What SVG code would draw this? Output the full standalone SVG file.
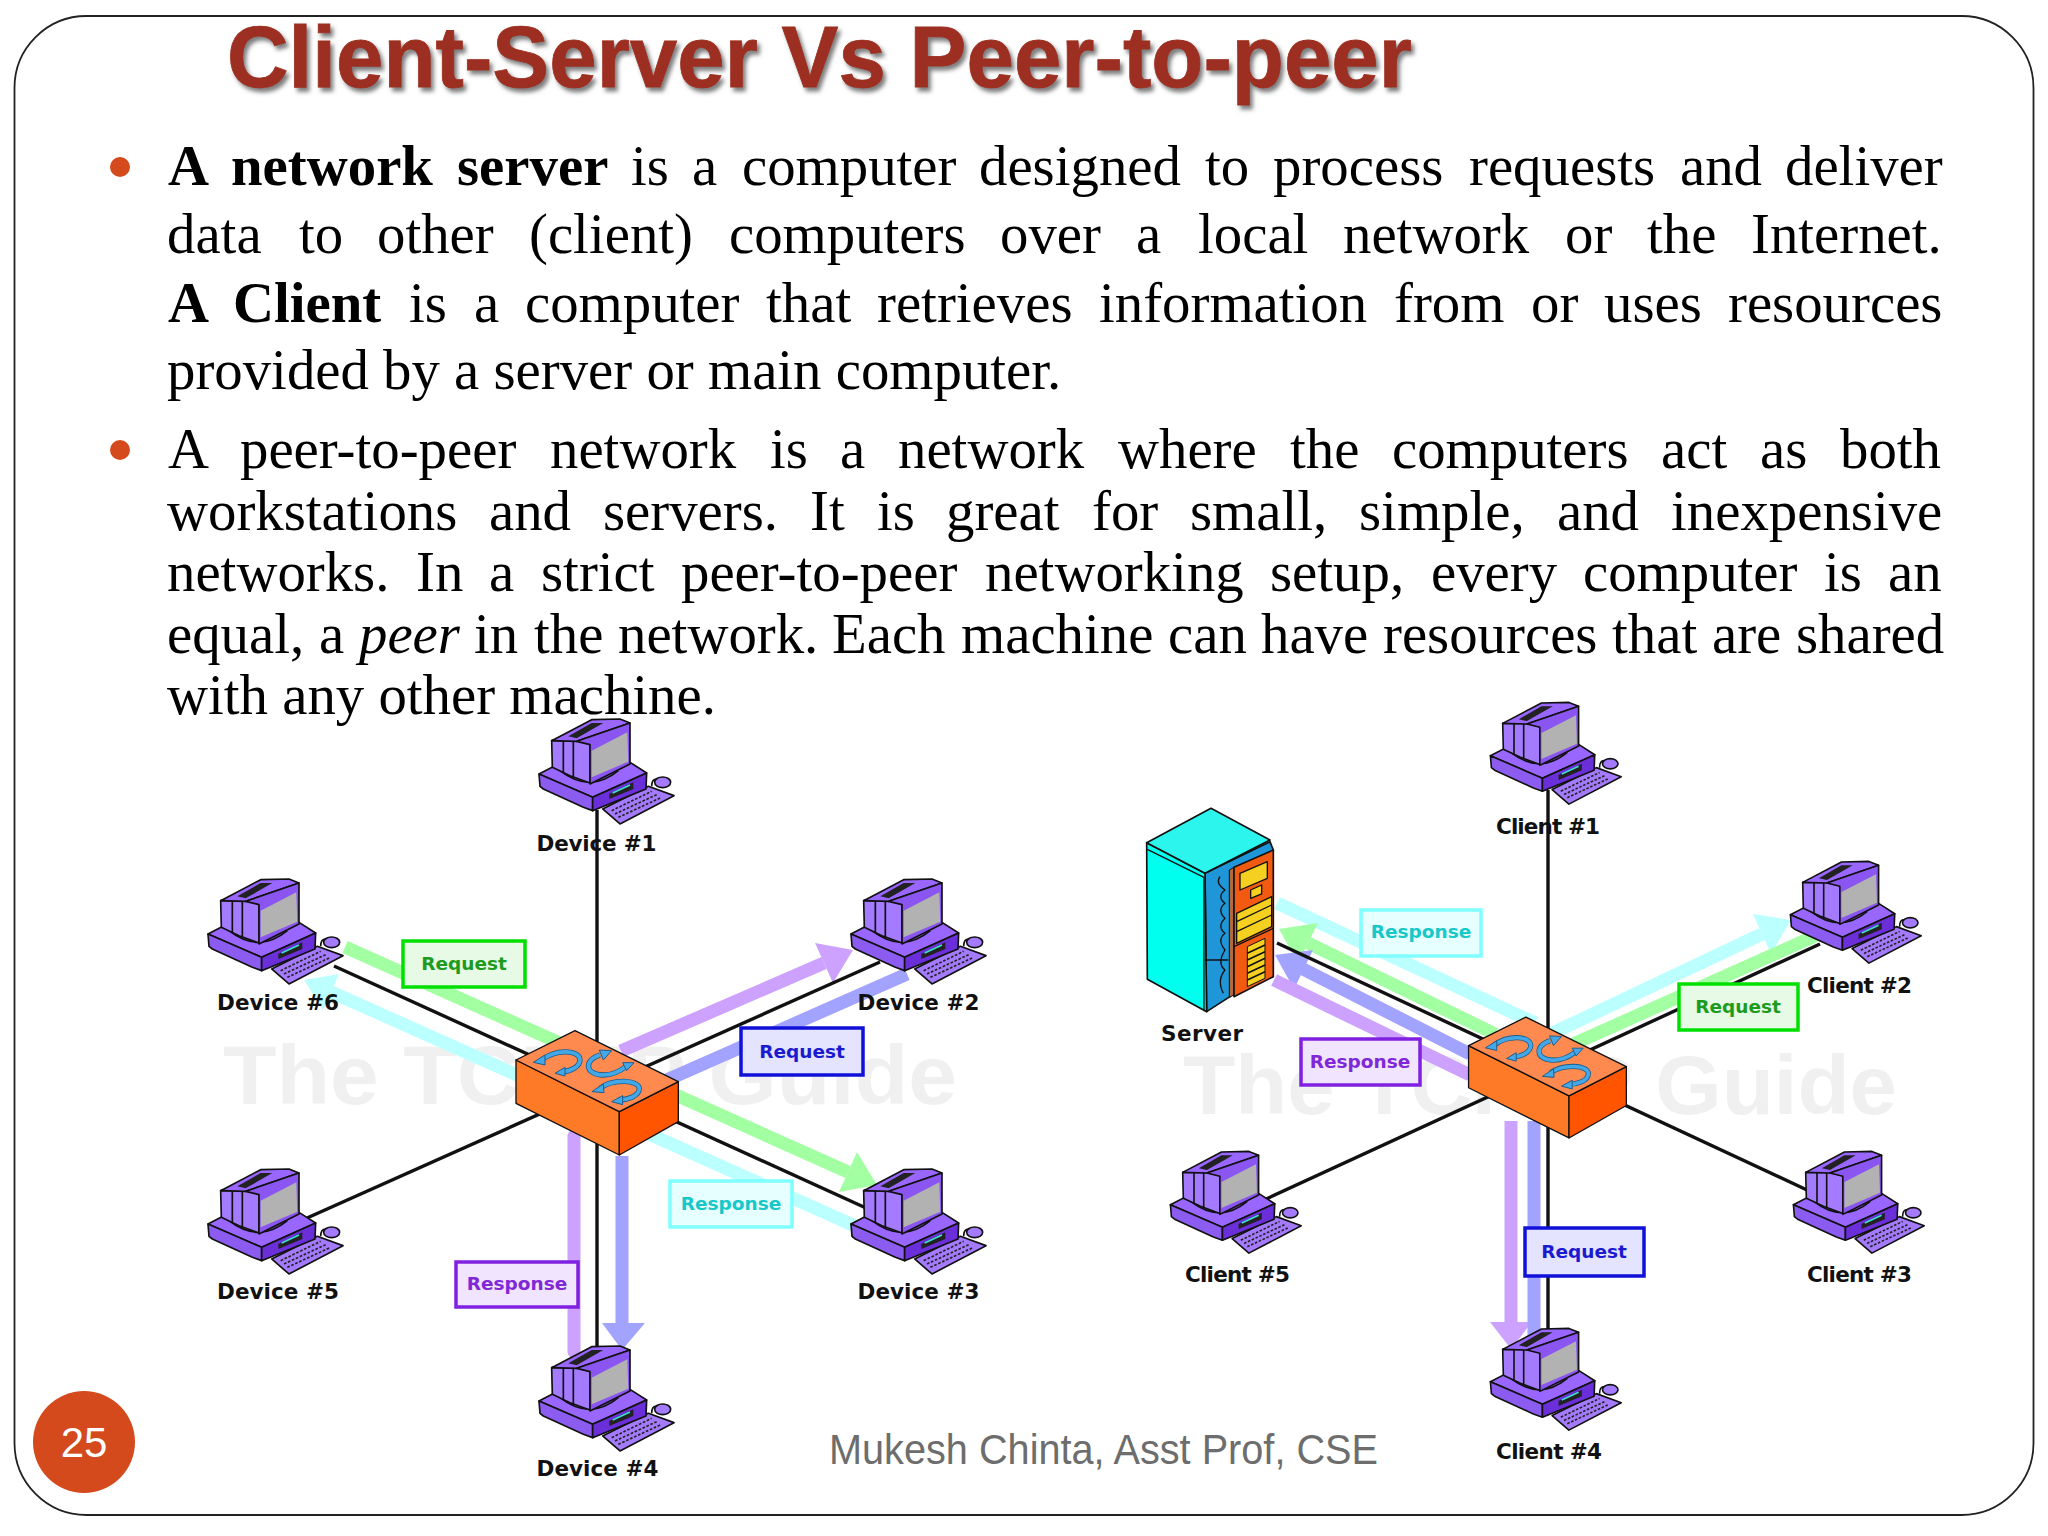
<svg xmlns="http://www.w3.org/2000/svg" xmlns:xlink="http://www.w3.org/1999/xlink" width="2048" height="1536" viewBox="0 0 2048 1536">
<style>
.body{font-family:"Liberation Serif","Times New Roman",serif;font-size:56.8px;fill:#000}
.b{font-weight:bold}
.i{font-style:italic}
.dev{font-family:"DejaVu Sans",Verdana,sans-serif;font-weight:bold;font-size:21.5px;fill:#111}
.lab{font-family:"DejaVu Sans",Verdana,sans-serif;font-weight:bold;font-size:18.5px;text-anchor:middle}
.box{stroke-width:3.5}
.wire{stroke:#111;stroke-width:3.4;fill:none}
.ar{stroke-width:13;fill:none}
.g{stroke:#a2ffa2}.gf{fill:#a2ffa2}
.c{stroke:#bbffff}.cf{fill:#bbffff}
.p{stroke:#cda2ff}.pf{fill:#cda2ff}
.u{stroke:#a2a2ff}.uf{fill:#a2a2ff}
.wm{font-family:"Liberation Sans",Arial,sans-serif;font-weight:bold;font-size:84px;fill:#f0f0f0}
.o{stroke:#111;stroke-width:5;stroke-linejoin:round}
</style>
<defs>
<filter id="ts" x="-5%" y="-20%" width="110%" height="150%"><feDropShadow dx="3" dy="4" stdDeviation="2.2" flood-color="#666" flood-opacity=".85"/></filter>
<g id="pc">
<polygon class="o" points="248,330 385,262 462,290 300,375" fill="#a47bff"/>
<path d="M275,335L395,277M285,345L410,287M295,355L425,295" stroke="#222" stroke-width="5" stroke-dasharray="8 5" fill="none"/>
<path d="M395,262Q395,240 410,240" stroke="#111" stroke-width="5" fill="none"/>
<ellipse class="o" cx="428" cy="250" rx="24" ry="16" fill="#a47bff"/>
<polygon class="o" points="57,225 125,190 330,190 380,222 218,295" fill="#9966ff"/>
<polygon class="o" points="57,225 218,295 218,335 190,325 70,270 60,262" fill="#8c5cf0"/>
<polygon class="o" points="218,295 380,222 378,270 218,335" fill="#6a2fd8"/>
<polygon points="268,285 340,250 340,270 268,300" fill="#222"/>
<path d="M278,282L330,258" stroke="#3fe0d0" stroke-width="5"/>
<path d="M120,215Q210,285 295,215" stroke="#111" stroke-width="5" fill="#8a55f0"/>
<polygon class="o" points="95,125 170,125 210,135 210,252 150,230 97,205" fill="#a47bff"/>
<path d="M130,125V222M160,125V235" stroke="#111" stroke-width="5"/>
<polygon class="o" points="95,125 215,62 300,60 330,72 170,127" fill="#9966ff"/>
<polygon points="145,112 215,72 250,72 170,118" fill="#222"/>
<polygon class="o" points="170,127 330,72 330,195 210,255 210,137" fill="#8a55f0"/>
<polygon points="215,155 322,100 325,188 215,235" fill="#b2b2b2"/>
</g>
<g id="hub">
<polygon points="48,150 358,305 358,435 48,280" fill="#ff7a26" stroke="#111" stroke-width="4" stroke-linejoin="round"/>
<polygon points="535,215 535,335 358,435 358,305" fill="#ff5400" stroke="#111" stroke-width="4" stroke-linejoin="round"/>
<polygon points="225,62 535,215 358,305 48,150" fill="#ff8a50" stroke="#111" stroke-width="4" stroke-linejoin="round"/>
<g fill="none">
<g stroke="#1a5d8f" stroke-width="16">
<path d="M125 150C170 115 240 120 240 150C240 170 210 185 185 185"/>
<path d="M300 135C250 150 255 195 310 195C340 195 365 180 380 168"/>
<path d="M300 235C340 205 415 210 418 235C418 260 380 270 355 270"/>
</g>
<g stroke="#45a8e6" stroke-width="11">
<path d="M125 150C170 115 240 120 240 150C240 170 210 185 185 185"/>
<path d="M300 135C250 150 255 195 310 195C340 195 365 180 380 168"/>
<path d="M300 235C340 205 415 210 418 235C418 260 380 270 355 270"/>
</g>
</g>
<g fill="#45a8e6" stroke="#1a5d8f" stroke-width="3" stroke-linejoin="round">
<polygon points="100,157 135,135 135,165"/>
<polygon points="165,190 195,172 195,198"/>
<polygon points="335,122 298,120 310,150"/>
<polygon points="402,158 368,158 380,182"/>
<polygon points="276,245 310,222 312,248"/>
<polygon points="335,275 368,257 368,284"/>
</g>
</g>
</defs>
<rect width="2048" height="1536" fill="#fff"/>
<rect x="14.5" y="16" width="2019" height="1499" rx="72" ry="72" fill="#fff" stroke="#222" stroke-width="1.8"/>

<g id="title"><text x="227" y="87" font-family="'Liberation Sans',Arial,sans-serif" font-weight="bold" font-size="88" fill="#9c2f20" stroke="#9c2f20" stroke-width=".8" filter="url(#ts)" textLength="1185" lengthAdjust="spacingAndGlyphs">Client-Server Vs Peer-to-peer</text></g>

<g id="body">
<circle cx="120" cy="167" r="10" fill="#d44a1c"/>
<circle cx="120" cy="450" r="10" fill="#d44a1c"/>
<text class="body" y="185"><tspan class="b" x="168">A</tspan><tspan class="b" x="231">network</tspan><tspan class="b" x="457">server</tspan><tspan x="631">is</tspan><tspan x="692">a</tspan><tspan x="742">computer</tspan><tspan x="979">designed</tspan><tspan x="1205">to</tspan><tspan x="1273">process</tspan><tspan x="1469">requests</tspan><tspan x="1680">and</tspan><tspan x="1785">deliver</tspan></text>
<text class="body" y="253"><tspan x="167">data</tspan><tspan x="299">to</tspan><tspan x="377">other</tspan><tspan x="529">(client)</tspan><tspan x="729">computers</tspan><tspan x="1000">over</tspan><tspan x="1136">a</tspan><tspan x="1198">local</tspan><tspan x="1343">network</tspan><tspan x="1565">or</tspan><tspan x="1647">the</tspan><tspan x="1751">Internet.</tspan></text>
<text class="body" y="322"><tspan class="b" x="168">A</tspan><tspan class="b" x="233">Client</tspan><tspan x="409">is</tspan><tspan x="474">a</tspan><tspan x="525">computer</tspan><tspan x="766">that</tspan><tspan x="877">retrieves</tspan><tspan x="1099">information</tspan><tspan x="1394">from</tspan><tspan x="1531">or</tspan><tspan x="1604">uses</tspan><tspan x="1728">resources</tspan></text>
<text class="body" x="167" y="389">provided by a server or main computer.</text>
<text class="body" y="468"><tspan x="168">A</tspan><tspan x="240">peer-to-peer</tspan><tspan x="550">network</tspan><tspan x="770">is</tspan><tspan x="840">a</tspan><tspan x="898">network</tspan><tspan x="1118">where</tspan><tspan x="1290">the</tspan><tspan x="1392">computers</tspan><tspan x="1661">act</tspan><tspan x="1760">as</tspan><tspan x="1840">both</tspan></text>
<text class="body" y="530"><tspan x="167">workstations</tspan><tspan x="489">and</tspan><tspan x="603">servers.</tspan><tspan x="810">It</tspan><tspan x="877">is</tspan><tspan x="946">great</tspan><tspan x="1092">for</tspan><tspan x="1190">small,</tspan><tspan x="1359">simple,</tspan><tspan x="1557">and</tspan><tspan x="1671">inexpensive</tspan></text>
<text class="body" y="591"><tspan x="167">networks.</tspan><tspan x="416">In</tspan><tspan x="489">a</tspan><tspan x="541">strict</tspan><tspan x="681">peer-to-peer</tspan><tspan x="985">networking</tspan><tspan x="1270">setup,</tspan><tspan x="1431">every</tspan><tspan x="1583">computer</tspan><tspan x="1824">is</tspan><tspan x="1888">an</tspan></text>
<text class="body" y="653"><tspan x="167">equal,</tspan><tspan x="319">a</tspan><tspan class="i" x="359">peer</tspan><tspan x="474">in</tspan><tspan x="534">the</tspan><tspan x="618">network.</tspan><tspan x="832">Each</tspan><tspan x="961">machine</tspan><tspan x="1168">can</tspan><tspan x="1261">have</tspan><tspan x="1383">resources</tspan><tspan x="1612">that</tspan><tspan x="1712">are</tspan><tspan x="1796">shared</tspan></text>
<text class="body" x="167" y="714">with any other machine.</text>
</g>

<text class="wm" x="223" y="1104" textLength="734" lengthAdjust="spacingAndGlyphs">The TCP/IP Guide</text>
<text class="wm" x="1183" y="1114" textLength="714" lengthAdjust="spacingAndGlyphs">The TCP/IP Guide</text>

<g id="connectors">
<g id="left-arrows">
<line class="ar g" x1="345" y1="947" x2="848" y2="1172"/><polygon class="gf" points="877,1185 839,1192 857,1152"/>
<line class="ar c" x1="331" y1="992" x2="855" y2="1226"/><polygon class="cf" points="304,980 339,974 323,1010"/>
<line class="ar p" x1="621" y1="1051" x2="824" y2="963"/><polygon class="pf" points="853,950 833,983 815,943"/>
<line class="ar u" x1="907" y1="974" x2="660" y2="1083"/>
<line class="ar p" x1="574" y1="1136" x2="574" y2="1352" stroke-linecap="round"/>
<line class="ar u" x1="622" y1="1156" x2="622" y2="1323"/><polygon class="uf" points="622,1350 602,1323 645,1323"/>
</g>
<g id="left-wires">
<line class="wire" x1="597" y1="810" x2="597" y2="1349"/>
<line class="wire" x1="334" y1="966" x2="866" y2="1208"/>
<line class="wire" x1="880" y1="962" x2="307" y2="1218"/>
</g>
<g id="right-arrows">
<line class="ar c" x1="1277" y1="903" x2="1535" y2="1023"/>
<line class="ar g" x1="1308" y1="943" x2="1495" y2="1034"/><polygon class="gf" points="1279,929 1318,923 1298,963"/>
<line class="ar u" x1="1303" y1="969" x2="1470" y2="1054"/><polygon class="uf" points="1275,955 1313,950 1294,989"/>
<line class="ar p" x1="1274" y1="980" x2="1470" y2="1075"/>
<line class="ar c" x1="1540" y1="1039" x2="1762" y2="934"/><polygon class="cf" points="1791,920 1771,954 1753,914"/>
<line class="ar g" x1="1560" y1="1050" x2="1815" y2="936"/>
<line class="ar p" x1="1511" y1="1121" x2="1511" y2="1322"/><polygon class="pf" points="1511,1349 1490,1322 1532,1322"/>
<line class="ar u" x1="1534" y1="1121" x2="1534" y2="1336"/>
</g>
<g id="right-wires">
<line class="wire" x1="1548" y1="790" x2="1548" y2="1336"/>
<line class="wire" x1="1277" y1="943" x2="1807" y2="1190"/>
<line class="wire" x1="1820" y1="944" x2="1264" y2="1200"/>
</g>
</g>

<g id="switch-left"><use href="#hub" transform="translate(500,1010) scale(.3333)"/></g>
<g id="switch-right"><use href="#hub" transform="translate(1453,997) scale(.324)"/></g>

<g id="device1"><use href="#pc" transform="translate(520,699) scale(.3333)"/><text class="dev" x="536.5" y="851" textLength="120">Device #1</text></g>
<g id="device2"><use href="#pc" transform="translate(832,859) scale(.3333)"/><text class="dev" x="857.5" y="1010" textLength="122">Device #2</text></g>
<g id="device3"><use href="#pc" transform="translate(832,1149) scale(.3333)"/><text class="dev" x="857.5" y="1299" textLength="122">Device #3</text></g>
<g id="device4"><use href="#pc" transform="translate(520,1326) scale(.3333)"/><text class="dev" x="536.5" y="1476" textLength="122">Device #4</text></g>
<g id="device5"><use href="#pc" transform="translate(189,1149) scale(.3333)"/><text class="dev" x="217" y="1299" textLength="122">Device #5</text></g>
<g id="device6"><use href="#pc" transform="translate(189,859) scale(.3333)"/><text class="dev" x="217" y="1010" textLength="122">Device #6</text></g>

<g id="client1"><use href="#pc" transform="translate(1472,683) scale(.323)"/><text class="dev" x="1496" y="834" textLength="104">Client #1</text></g>
<g id="client2"><use href="#pc" transform="translate(1772,842) scale(.323)"/><text class="dev" x="1807" y="993" textLength="105">Client #2</text></g>
<g id="client3"><use href="#pc" transform="translate(1775,1132) scale(.323)"/><text class="dev" x="1807" y="1282" textLength="105">Client #3</text></g>
<g id="client4"><use href="#pc" transform="translate(1472,1309) scale(.323)"/><text class="dev" x="1496" y="1459" textLength="106">Client #4</text></g>
<g id="client5"><use href="#pc" transform="translate(1152,1132) scale(.323)"/><text class="dev" x="1185" y="1282" textLength="105">Client #5</text></g>

<g id="server">
<g transform="translate(1130,790) scale(.3333)" stroke-linejoin="round">
<polygon class="o" points="225,250 420,155 430,180 300,620 230,665" fill="#1e96d8"/>
<polygon class="o" points="50,158 225,250 230,665 52,568" fill="#00ffee"/>
<polygon class="o" points="50,158 243,55 420,150 225,250" fill="#2cf5ee"/>
<path d="M52,178L222,262M222,262V660M225,510H295M270,260Q255,280 285,300Q260,320 285,340Q260,360 285,385Q260,410 285,430Q260,450 285,480Q260,520 285,540Q260,570 280,610" stroke="#111" stroke-width="4" fill="none"/>
<polygon points="298,240 312,232 312,615 298,622" fill="#b06a3c" stroke="#111" stroke-width="3"/>
<polygon class="o" points="312,232 430,180 430,560 312,620" fill="#f25a12"/>
<polygon points="330,250 412,215 412,265 330,300" fill="#f5d020" stroke="#111" stroke-width="4"/>
<polygon points="362,300 395,285 395,312 362,325" fill="#f5d020" stroke="#111" stroke-width="4"/>
<polygon points="320,370 425,320 425,410 320,460" fill="#f5d020" stroke="#111" stroke-width="4"/>
<path d="M320,395L425,345M320,425L425,375M312,470L430,415" stroke="#111" stroke-width="4" fill="none"/>
<polygon points="352,470 405,445 405,565 352,590" fill="#f5d020" stroke="#111" stroke-width="3"/>
<path d="M352,490L405,465M352,510L405,485M352,530L405,505M352,550L405,525M352,570L405,545" stroke="#111" stroke-width="5"/>
</g>
<text class="dev" x="1161" y="1041" textLength="82">Server</text>
</g>

<g id="labels">
<g><rect class="box" x="403" y="941" width="122" height="46" fill="#e6fae6" stroke="#00e000"/><text class="lab" x="464" y="970" fill="#1c9b1c">Request</text></g>
<g><rect class="box" x="741" y="1028" width="122" height="47" fill="#e4e4ff" stroke="#1010d8"/><text class="lab" x="802" y="1058" fill="#1a1ad0">Request</text></g>
<g><rect class="box" x="670" y="1181" width="122" height="46" fill="#e6ffff" stroke="#80ffff"/><text class="lab" x="731" y="1210" fill="#18c8c8">Response</text></g>
<g><rect class="box" x="456" y="1262" width="122" height="45" fill="#f0e4ff" stroke="#8020e0"/><text class="lab" x="517" y="1290" fill="#8028d8">Response</text></g>
<g><rect class="box" x="1361" y="910" width="120" height="46" fill="#e6ffff" stroke="#80ffff"/><text class="lab" x="1421" y="938" fill="#18c8c8">Response</text></g>
<g><rect class="box" x="1301" y="1039" width="119" height="46" fill="#f0e4ff" stroke="#8020e0"/><text class="lab" x="1360" y="1068" fill="#8028d8">Response</text></g>
<g><rect class="box" x="1679" y="984" width="119" height="46" fill="#e6fae6" stroke="#00e000"/><text class="lab" x="1738" y="1013" fill="#1c9b1c">Request</text></g>
<g><rect class="box" x="1525" y="1228" width="119" height="48" fill="#e4e4ff" stroke="#1010d8"/><text class="lab" x="1584" y="1258" fill="#1a1ad0">Request</text></g>
</g>

<g id="footer">
<text x="829" y="1464" font-family="'Liberation Sans',Arial,sans-serif" font-size="42" fill="#6d6d6d" textLength="549" lengthAdjust="spacingAndGlyphs">Mukesh Chinta, Asst Prof, CSE</text>
<circle cx="84" cy="1442" r="51" fill="#d44a1c"/>
<text x="84" y="1457" font-family="'Liberation Sans',Arial,sans-serif" font-size="42" fill="#fff" text-anchor="middle">25</text>
</g>
</svg>
